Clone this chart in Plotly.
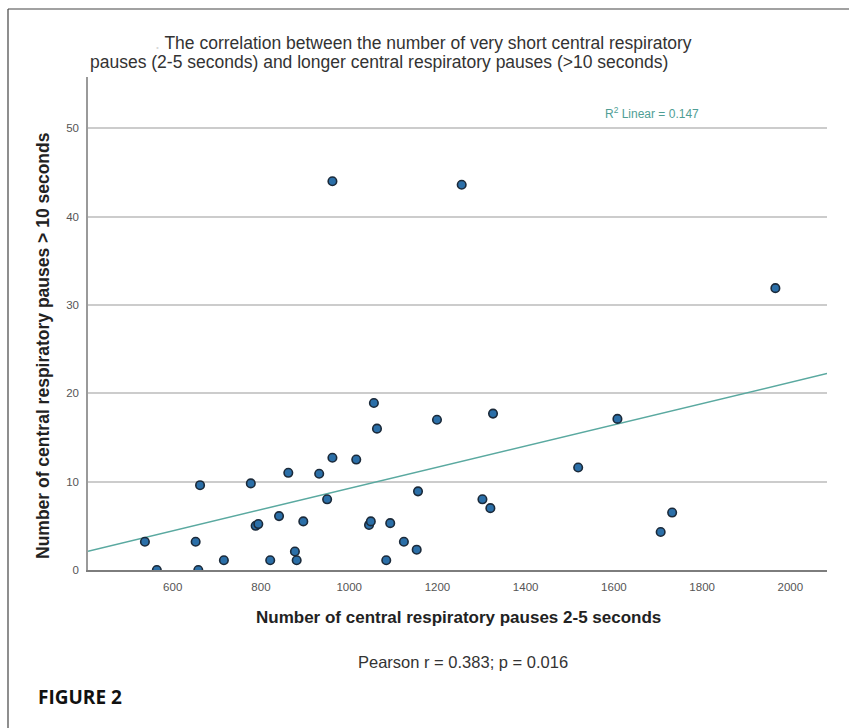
import numpy as np
import plotly.graph_objects as go

# Data
pauses_2_5 = [537, 564, 652, 658, 662, 716, 777, 788, 794, 821, 841, 862, 877, 881, 896,
              932, 950, 962, 1016, 1045, 1049, 1056, 1063, 1084, 1093, 1124, 1153, 1156,
              1199, 1302, 1320, 1326, 1519, 1608, 1706, 1732, 962, 1255, 1966]
pauses_gt10 = [3.2, 0.0, 3.2, 0.0, 9.6, 1.1, 9.8, 5.0, 5.2, 1.1, 6.1, 11.0, 2.1, 1.1, 5.5,
               10.9, 8.0, 12.7, 12.5, 5.1, 5.5, 18.9, 16.0, 1.1, 5.3, 3.2, 2.3, 8.9,
               17.0, 8.0, 7.0, 17.7, 11.6, 17.1, 4.3, 6.5, 44.0, 43.6, 31.9]
x_ticks = [600, 800, 1000, 1200, 1400, 1600, 1800, 2000]
y_ticks = [0, 10, 20, 30, 40, 50]
x_range = [408, 2083]
y_range = [0, 55.8]

title_line1 = "The correlation between the number of very short central respiratory"
title_line2 = "pauses (2-5 seconds) and longer central respiratory pauses (>10 seconds)"
x_title = "Number of central respiratory pauses 2-5 seconds"
y_title = "Number of central respiratory pauses > 10 seconds"
stats_text = "Pearson r = 0.383; p = 0.016"
fig_label = "FIGURE 2"
r2_text = "R<sup>2</sup> Linear = 0.147"

W, H = 849, 728
L, R, T, B = 88, 22, 77, 158
PW, PH = W - L - R, H - T - B


def px(xp):
    return (xp - L) / PW


def py(yp):
    return (H - B - yp) / PH


slope, intercept = np.polyfit(pauses_2_5, pauses_gt10, 1)
fit_x = np.array(x_range, dtype=float)
fit_y = slope * fit_x + intercept

fig = go.Figure()
fig.add_trace(go.Scatter(
    x=fit_x, y=fit_y, mode="lines",
    line=dict(color="#5aa9a0", width=1.5),
    hoverinfo="skip", showlegend=False,
))
fig.add_trace(go.Scatter(
    x=pauses_2_5, y=pauses_gt10, mode="markers",
    marker=dict(size=8.5, color="#2b6fa8", line=dict(color="#1b2a3a", width=1.6)),
    showlegend=False,
))

fig.update_layout(
    width=W, height=H,
    margin=dict(l=L, r=R, t=T, b=B, autoexpand=False),
    paper_bgcolor="white", plot_bgcolor="white",
    font=dict(family="Liberation Sans, Arial, sans-serif", color="#333"),
    xaxis=dict(
        range=x_range, tickvals=x_ticks, showgrid=False, zeroline=False,
        showline=True, linecolor="#7d7d7d", linewidth=2,
        tickfont=dict(size=11.5, color="#555"), ticks="", ticklabelstandoff=5,
    ),
    yaxis=dict(
        range=y_range, tickvals=y_ticks, showgrid=True, gridcolor="#cccccc",
        gridwidth=1.5, zeroline=False,
        showline=True, linecolor="#9a9a9a", linewidth=1.5,
        tickfont=dict(size=11.5, color="#555"), ticks="", ticklabelstandoff=5,
    ),
    shapes=[
        dict(type="line", xref="paper", yref="paper",
             x0=px(8), x1=px(849), y0=py(9), y1=py(9),
             line=dict(color="#444", width=1.2)),
        dict(type="line", xref="paper", yref="paper",
             x0=px(8), x1=px(8), y0=py(9), y1=py(728),
             line=dict(color="#444", width=1.2)),
    ],
    annotations=[
        dict(text="<span style='color:#d8d8d8'>.</span> " + title_line1,
             xref="paper", yref="paper", x=px(153), y=py(43),
             xanchor="left", yanchor="middle", showarrow=False,
             font=dict(size=17.5, color="#333")),
        dict(text=title_line2,
             xref="paper", yref="paper", x=px(88), y=py(62),
             xanchor="left", yanchor="middle", showarrow=False,
             font=dict(size=17.5, color="#333")),
        dict(text=r2_text, xref="paper", yref="paper", x=px(652), y=py(113),
             xanchor="center", yanchor="middle", showarrow=False,
             font=dict(size=12, color="#4f9e95")),
        dict(text="<b>" + y_title + "</b>", xref="paper", yref="paper",
             x=px(43), y=py(346), textangle=-90,
             xanchor="center", yanchor="middle", showarrow=False,
             font=dict(size=17.5, color="#222")),
        dict(text="<b>" + x_title + "</b>", xref="paper", yref="paper",
             x=px(458), y=py(617),
             xanchor="center", yanchor="middle", showarrow=False,
             font=dict(size=17, color="#222")),
        dict(text=stats_text, xref="paper", yref="paper",
             x=px(463), y=py(662),
             xanchor="center", yanchor="middle", showarrow=False,
             font=dict(size=16.5, color="#333")),
        dict(text="<b>" + fig_label + "</b>", xref="paper", yref="paper",
             x=px(36), y=py(697),
             xanchor="left", yanchor="middle", showarrow=False,
             font=dict(family="Open Sans, sans-serif", size=19, color="#111")),
    ],
)

fig.write_html("out.html", config={"displayModeBar": False},
               post_script="document.body.style.margin='0';")
